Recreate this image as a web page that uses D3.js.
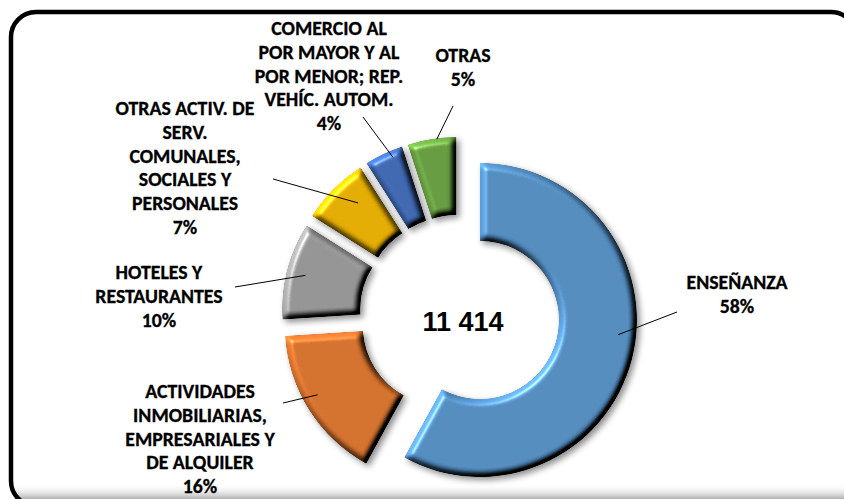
<!DOCTYPE html>
<html>
<head>
<meta charset="utf-8">
<script src="https://cdn.jsdelivr.net/npm/d3@7"></script>
<style>
  body { margin: 0; background: #fff; }
  .lbl { font-family: Calibri, Carlito, Lato, sans-serif; font-weight: bold; font-size: 19.8px; fill: #000; stroke: #000; stroke-width: 0.3px; }
  .total { font-family: "Liberation Sans", Arial, sans-serif; font-weight: bold; font-size: 27px; fill: #000; }
</style>
</head>
<body>
<div id="contents"></div>
<script>
// data
var categories = ["ENSEÑANZA",
                  "ACTIVIDADES\nINMOBILIARIAS,\nEMPRESARIALES Y\nDE ALQUILER",
                  "HOTELES Y\nRESTAURANTES",
                  "OTRAS ACTIV. DE\nSERV.\nCOMUNALES,\nSOCIALES Y\nPERSONALES",
                  "COMERCIO AL\nPOR MAYOR Y AL\nPOR MENOR; REP.\nVEHÍC. AUTOM.",
                  "OTRAS"];
var values = [6620, 1826, 1141, 799, 457, 571];
var colors = ["#5b9bd5", "#ed7d31", "#a5a5a5", "#ffc000", "#4472c4", "#70ad47"];

// label placement (center x, first baseline, leader start, leader end as t along slice / radius)
var labelPos = [
  {x: 737, y: 289, lx: 677, ly: 312, t: 0.46, rad: 139},
  {x: 200, y: 398, lx: 283, ly: 403, t: 0.56, rad: 142},
  {x: 159, y: 279, lx: 235, ly: 287, t: 0.50, rad: 138},
  {x: 185, y: 115, lx: 273, ly: 179, t: 0.63, rad: 130},
  {x: 329, y: 35,  lx: 363, ly: 117, t: 0.68, rad: 150},
  {x: 463, y: 62,  lx: 453, ly: 106, t: 0.60, rad: 156}
];

function drawChart(){
  var width = 844, height = 499;
  var cx = 459.6, cy = 314.8;
  var outerR = 157, innerR = 79, explode = 21;
  var lineH = 23.8;

  var total = d3.sum(values);
  var fmt = function(n){ return d3.format(",")(n).replace(/,/g, " "); };

  var svg = d3.select("#contents")
              .append("svg")
              .attr("width", width)
              .attr("height", height);

  var defs = svg.append("defs");

  // bevel + shadow for the slices
  var f = defs.append("filter").attr("id", "bevel")
              .attr("x", "-20%").attr("y", "-20%").attr("width", "140%").attr("height", "140%")
              .attr("color-interpolation-filters", "sRGB");
  f.append("feGaussianBlur").attr("in", "SourceAlpha").attr("stdDeviation", 3.2).attr("result", "blur");
  f.append("feDiffuseLighting").attr("in", "blur").attr("surfaceScale", 6).attr("diffuseConstant", 1)
   .attr("lighting-color", "#fff").attr("result", "diff")
   .append("feDistantLight").attr("azimuth", 225).attr("elevation", 45);
  f.append("feComposite").attr("in", "SourceGraphic").attr("in2", "diff").attr("operator", "arithmetic")
   .attr("k1", 1.24).attr("k2", 0).attr("k3", 0).attr("k4", 0).attr("result", "shaded");
  f.append("feSpecularLighting").attr("in", "blur").attr("surfaceScale", 6).attr("specularConstant", 0.5)
   .attr("specularExponent", 35).attr("lighting-color", "#fff").attr("result", "spec")
   .append("feDistantLight").attr("azimuth", 225).attr("elevation", 45);
  f.append("feComposite").attr("in", "spec").attr("in2", "SourceAlpha").attr("operator", "in").attr("result", "specIn");
  f.append("feComposite").attr("in", "shaded").attr("in2", "specIn").attr("operator", "arithmetic")
   .attr("k1", 0).attr("k2", 1).attr("k3", 0.7).attr("k4", 0).attr("result", "lit");
  f.append("feComposite").attr("in", "lit").attr("in2", "SourceAlpha").attr("operator", "in").attr("result", "litIn");
  f.append("feGaussianBlur").attr("in", "SourceAlpha").attr("stdDeviation", 3).attr("result", "sb");
  f.append("feOffset").attr("in", "sb").attr("dx", 3).attr("dy", 3).attr("result", "so");
  f.append("feComponentTransfer").attr("in", "so").attr("result", "shadow")
   .append("feFuncA").attr("type", "linear").attr("slope", 0.45);
  var m = f.append("feMerge");
  m.append("feMergeNode").attr("in", "shadow");
  m.append("feMergeNode").attr("in", "litIn");

  // frame
  defs.append("clipPath").attr("id", "frameClip")
      .append("rect").attr("x", 11).attr("y", 12).attr("width", 845).attr("height", 494).attr("rx", 25);
  var g = defs.append("linearGradient").attr("id", "bottomShade").attr("x1", 0).attr("y1", 0).attr("x2", 0).attr("y2", 1);
  g.append("stop").attr("offset", "0%").attr("stop-color", "#fff").attr("stop-opacity", 0);
  g.append("stop").attr("offset", "100%").attr("stop-color", "#b0b0b0").attr("stop-opacity", 1);

  svg.append("rect").attr("x", 11).attr("y", 12).attr("width", 845).attr("height", 494).attr("rx", 25)
     .attr("fill", "#fff");
  svg.append("rect").attr("x", 0).attr("y", 484).attr("width", width).attr("height", 15)
     .attr("fill", "url(#bottomShade)").attr("clip-path", "url(#frameClip)");
  svg.append("rect").attr("x", 11).attr("y", 12).attr("width", 845).attr("height", 494).attr("rx", 25)
     .attr("fill", "none").attr("stroke", "#000").attr("stroke-width", 4.5);

  // donut
  var pie = d3.pie().sort(null).value(function(d){ return d; });
  var arcs = pie(values);
  var arc = d3.arc().innerRadius(innerR).outerRadius(outerR);

  arcs.forEach(function(d){
    var mid = (d.startAngle + d.endAngle) / 2;
    d.ox = cx + explode * Math.sin(mid);
    d.oy = cy - explode * Math.cos(mid);
  });

  var chart = svg.append("g");

  chart.selectAll(".slice")
       .data(arcs)
       .enter()
         .append("path")
         .attr("class", "slice")
         .attr("transform", function(d){ return "translate(" + d.ox + "," + d.oy + ")"; })
         .attr("d", arc)
         .attr("fill", function(d, i){ return colors[i]; })
         .attr("filter", "url(#bevel)");

  // leader lines
  chart.selectAll(".leader")
       .data(arcs)
       .enter()
         .append("line")
         .attr("class", "leader")
         .attr("x1", function(d, i){ return labelPos[i].lx; })
         .attr("y1", function(d, i){ return labelPos[i].ly; })
         .attr("x2", function(d, i){
            var a = d.startAngle + labelPos[i].t * (d.endAngle - d.startAngle);
            return d.ox + labelPos[i].rad * Math.sin(a);
         })
         .attr("y2", function(d, i){
            var a = d.startAngle + labelPos[i].t * (d.endAngle - d.startAngle);
            return d.oy - labelPos[i].rad * Math.cos(a);
         })
         .attr("stroke", "#000")
         .attr("stroke-width", 1);

  // labels
  var labels = chart.selectAll(".lbl")
       .data(arcs)
       .enter()
         .append("text")
         .attr("class", "lbl")
         .attr("text-anchor", "middle");

  labels.each(function(d, i){
    var lines = categories[i].split("\n");
    lines.push(Math.round(d.value / total * 100) + "%");
    var t = d3.select(this);
    lines.forEach(function(s, k){
      t.append("tspan")
       .attr("x", labelPos[i].x)
       .attr("y", labelPos[i].y + k * lineH)
       .text(s);
    });
  });

  // total in the hole
  chart.append("text")
       .attr("class", "total")
       .attr("x", cx + 3.5)
       .attr("y", cy + 16)
       .attr("text-anchor", "middle")
       .text(fmt(total));
}

drawChart();
</script>
</body>
</html>
